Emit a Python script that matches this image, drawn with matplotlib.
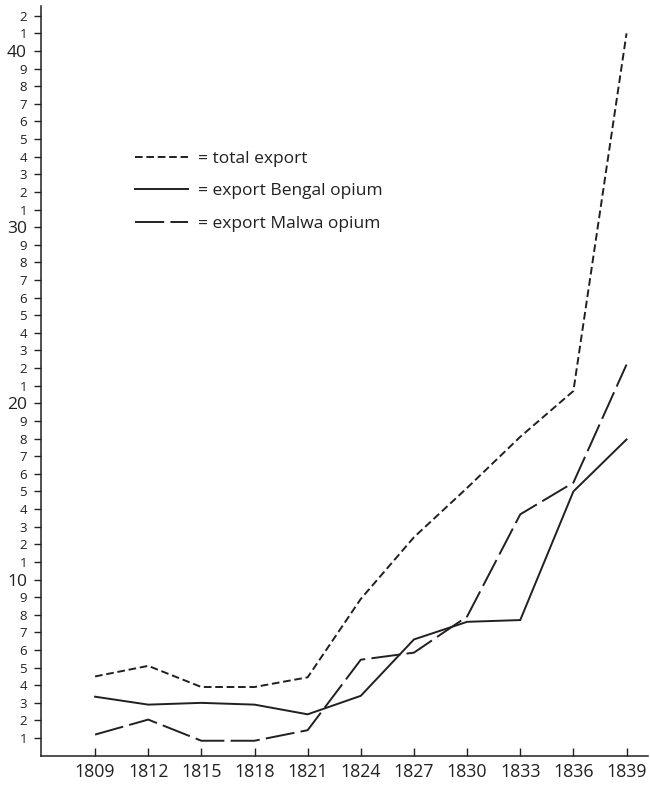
import matplotlib
matplotlib.use('Agg')
import matplotlib.pyplot as plt
from matplotlib.lines import Line2D

# values
years = [1809, 1812, 1815, 1818, 1821, 1824, 1827, 1830, 1833, 1836, 1839]
total_export = [4.5, 5.1, 3.9, 3.9, 4.45, 8.9, 12.4, 15.2, 18.1, 20.7, 41.0]
bengal_export = [3.35, 2.9, 3.0, 2.9, 2.35, 3.4, 6.6, 7.6, 7.7, 15.0, 17.95]
malwa_export = [1.2, 2.05, 0.85, 0.85, 1.45, 5.45, 5.85, 7.9, 13.7, 15.5, 22.2]

legend_labels = ['= total export', '= export Bengal opium', '= export Malwa opium']
y_ticks = list(range(1, 43))
y_labels = [str(v) if v % 10 == 0 else str(v % 10) for v in y_ticks]

ink = '#231f20'
plt.rcParams['font.family'] = ['Open Sans', 'DejaVu Sans']
plt.rcParams['lines.scale_dashes'] = False

short_dash = (0, (5.5, 2.7))
long_dash = (0, (21, 4.5))

fig = plt.figure(figsize=(6.5, 7.85), dpi=100)
ax = fig.add_axes([0.0626, 0.0373, 0.934, 0.955])

ax.plot(years, total_export, color=ink, lw=1.4, linestyle=short_dash)
ax.plot(years, bengal_export, color=ink, lw=1.4, linestyle='-')
ax.plot(years, malwa_export, color=ink, lw=1.4, linestyle=long_dash)

ax.set_xlim(1805.93, 1840.2)
ax.set_ylim(0, 42.55)

for side in ['top', 'right']:
    ax.spines[side].set_visible(False)
for side in ['left', 'bottom']:
    ax.spines[side].set_color(ink)
    ax.spines[side].set_linewidth(1.1)

ax.set_xticks(years)
ax.set_xticklabels([str(y) for y in years], fontsize=12.8, color=ink)
ax.tick_params(axis='x', direction='in', length=6, width=1.0, color=ink, pad=5)

ax.set_yticks(y_ticks)
ax.set_yticklabels(y_labels, color=ink)
for v, lab in zip(y_ticks, ax.get_yticklabels()):
    lab.set_fontsize(12.5 if v % 10 == 0 else 9.5)
ax.tick_params(axis='y', direction='out', length=5.3, width=1.0, color=ink, pad=4.5)

handles = [
    Line2D([], [], color=ink, lw=1.4, linestyle=short_dash),
    Line2D([], [], color=ink, lw=1.4, linestyle='-'),
    Line2D([], [], color=ink, lw=1.4, linestyle=long_dash),
]
fig.legend(handles, legend_labels, loc='upper left', bbox_to_anchor=(0.2077, 0.8083),
           frameon=False, fontsize=12.5, handlelength=3.05, handletextpad=0.57,
           labelspacing=0.95, borderpad=0, borderaxespad=0, labelcolor=ink)

fig.savefig('out.png', dpi=100)
